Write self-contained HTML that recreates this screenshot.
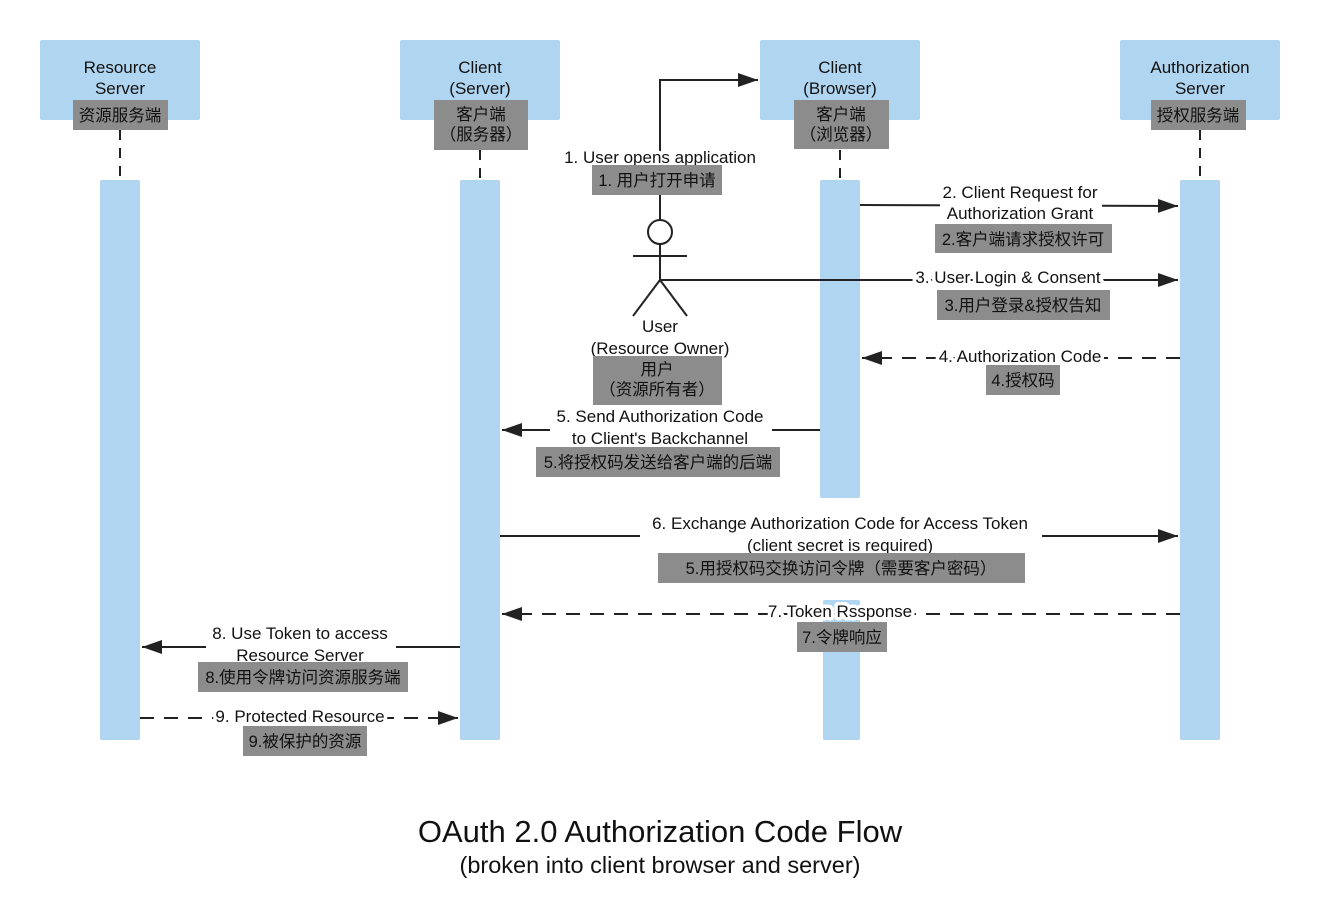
<!DOCTYPE html>
<html><head><meta charset="utf-8"><style>
html,body{margin:0;padding:0;background:#fff;}
text{font-family:"Liberation Sans","Noto Sans CJK SC",sans-serif;fill:#111;}
.cn{fill:#2a2a2a;font-size:16.5px;}
.en{font-size:17px;}
.h text{stroke:#fff;stroke-width:7px;paint-order:stroke;stroke-linejoin:round;}
</style></head><body>
<svg width="1320" height="909" viewBox="0 0 1320 909" xmlns="http://www.w3.org/2000/svg">
<defs>
<marker id="a" viewBox="0 0 20 14" refX="20" refY="7" markerWidth="20" markerHeight="14" markerUnits="userSpaceOnUse" orient="auto"><path d="M0,0 L20,7 L0,14 z" fill="#222"/></marker>
</defs>
<g fill="#b0d5f0">
<rect x="40" y="40" width="160" height="80" rx="2"/>
<rect x="400" y="40" width="160" height="80" rx="2"/>
<rect x="760" y="40" width="160" height="80" rx="2"/>
<rect x="1120" y="40" width="160" height="80" rx="2"/>
<rect x="100" y="180" width="40" height="560" rx="2"/>
<rect x="460" y="180" width="40" height="560" rx="2"/>
<rect x="820" y="180" width="40" height="318" rx="2"/>
<rect x="823" y="600" width="37" height="140" rx="2"/>
<rect x="1180" y="180" width="40" height="560" rx="2"/>
</g>
<g stroke="#222" stroke-width="2" stroke-dasharray="10,8">
<line x1="120" y1="130" x2="120" y2="180"/>
<line x1="480" y1="150" x2="480" y2="180"/>
<line x1="840" y1="150" x2="840" y2="180"/>
<line x1="1200" y1="130" x2="1200" y2="180"/>
</g>
<g class="en" text-anchor="middle">
<text x="120" y="73">Resource</text><text x="120" y="94">Server</text>
<text x="480" y="73">Client</text><text x="480" y="94">(Server)</text>
<text x="840" y="73">Client</text><text x="840" y="94">(Browser)</text>
<text x="1200" y="73">Authorization</text><text x="1200" y="94">Server</text>
</g>
<g stroke="#222" stroke-width="2" fill="none">
<polyline points="660,220 660,80 758,80" marker-end="url(#a)"/>
<circle cx="660" cy="232" r="12" fill="#fff"/>
<line x1="660" y1="244" x2="660" y2="280"/>
<line x1="633" y1="256" x2="687" y2="256"/>
<line x1="660" y1="280" x2="633" y2="316"/>
<line x1="660" y1="280" x2="687" y2="316"/>
<line x1="660" y1="280" x2="1178" y2="280" marker-end="url(#a)"/>
<line x1="860" y1="205" x2="1178" y2="206" marker-end="url(#a)"/>
<line x1="1180" y1="358" x2="862" y2="358" stroke-dasharray="14,10" marker-end="url(#a)"/>
<line x1="820" y1="430" x2="502" y2="430" marker-end="url(#a)"/>
<line x1="500" y1="536" x2="1178" y2="536" marker-end="url(#a)"/>
<line x1="1180" y1="614" x2="502" y2="614" stroke-dasharray="14,10" marker-end="url(#a)"/>
<line x1="460" y1="647" x2="142" y2="647" marker-end="url(#a)"/>
<line x1="140" y1="718" x2="458" y2="718" stroke-dasharray="14,10" marker-end="url(#a)"/>
</g>
<g fill="#fff">
<rect x="940" y="183" width="162" height="40"/>
<rect x="550" y="406" width="222" height="41"/>
<rect x="640" y="513" width="402" height="40"/>
<rect x="206" y="623" width="190" height="39"/>
<rect x="590" y="318" width="142" height="38"/>
</g>
<g class="en h" text-anchor="middle">
<text x="660" y="163">1. User opens application</text>
<text x="660" y="332">User</text>
<text x="660" y="354">(Resource Owner)</text>
<text x="1020" y="198">2. Client Request for</text><text x="1020" y="219">Authorization Grant</text>
<text x="1008" y="283">3. User Login &amp; Consent</text>
<text x="1020" y="362">4. Authorization Code</text>
<text x="660" y="422">5. Send Authorization Code</text><text x="660" y="444">to Client's Backchannel</text>
<text x="840" y="529">6. Exchange Authorization Code for Access Token</text><text x="840" y="551">(client secret is required)</text>
<text x="840" y="617">7. Token Rssponse</text>
<text x="300" y="639">8. Use Token to access</text><text x="300" y="661">Resource Server</text>
<text x="300" y="722">9. Protected Resource</text>
</g>
<g fill="#8c8c8c">
<rect x="73" y="100" width="95" height="30"/>
<rect x="434" y="100" width="94" height="50"/>
<rect x="794" y="100" width="95" height="49"/>
<rect x="1151" y="100" width="95" height="30"/>
<rect x="592" y="165" width="130" height="30"/>
<rect x="593" y="356" width="129" height="49"/>
<rect x="935" y="224" width="177" height="29"/>
<rect x="937" y="290" width="173" height="30"/>
<rect x="986" y="365" width="74" height="30"/>
<rect x="536" y="447" width="244" height="30"/>
<rect x="658" y="553" width="367" height="30"/>
<rect x="797" y="622" width="90" height="30"/>
<rect x="198" y="662" width="210" height="30"/>
<rect x="243" y="726" width="124" height="30"/>
</g>
<g class="cn" text-anchor="middle">
<text x="120" y="121">资源服务端</text>
<text x="481" y="120">客户端</text><text x="481" y="140">（服务器）</text>
<text x="841" y="120">客户端</text><text x="841" y="140">（浏览器）</text>
<text x="1198" y="121">授权服务端</text>
<text x="657" y="186">1. 用户打开申请</text>
<text x="657" y="375">用户</text><text x="657" y="395">（资源所有者）</text>
<text x="1023" y="245">2.客户端请求授权许可</text>
<text x="1023" y="311">3.用户登录&amp;授权告知</text>
<text x="1023" y="386">4.授权码</text>
<text x="658" y="468">5.将授权码发送给客户端的后端</text>
<text x="841" y="574">5.用授权码交换访问令牌（需要客户密码）</text>
<text x="842" y="643">7.令牌响应</text>
<text x="303" y="683">8.使用令牌访问资源服务端</text>
<text x="305" y="747">9.被保护的资源</text>
</g>
<g text-anchor="middle">
<text x="660" y="842" style="font-size:31px">OAuth 2.0 Authorization Code Flow</text>
<text x="660" y="873" style="font-size:23.5px">(broken into client browser and server)</text>
</g>
</svg>
</body></html>
